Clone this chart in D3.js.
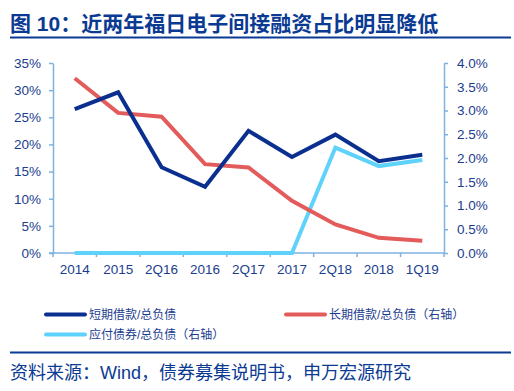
<!DOCTYPE html>
<html><head><meta charset="utf-8">
<script src="https://cdn.jsdelivr.net/npm/d3@7/dist/d3.min.js"></script>
<style>
html,body{margin:0;padding:0;background:#fff;}
svg{display:block;}
text{font-family:"Liberation Sans","Noto Sans CJK SC",sans-serif;}
</style></head>
<body>
<svg id="c" width="514" height="391"></svg>
<script>
const categories = ["2014","2015","2Q16","2016","2Q17","2017","2Q18","2018","1Q19"];
const shortTerm = [26.5,29.6,15.8,12.2,22.5,17.7,21.8,16.9,18.1];
const longTerm = [3.68,2.95,2.87,1.87,1.80,1.10,0.60,0.32,0.26];
const bonds = [0,0,0,0,0,0,2.22,1.83,1.96];
const leftTicks = [0,5,10,15,20,25,30,35];
const rightTicks = [0,0.5,1,1.5,2,2.5,3,3.5,4];
const seriesNames = ["短期借款/总负债","长期借款/总负债（右轴）","应付债券/总负债（右轴）"];
const titleText = "图 10：近两年福日电子间接融资占比明显降低";
const sourceText = "资料来源：Wind，债券募集说明书，申万宏源研究";

const navy = "#0a2f8f", red = "#e35b5b", cyan = "#5fd2fb", axisC = "#7eb1e2", textC = "#1b3d8f";
const svg = d3.select("#c");
const L = 53, R = 444, T = 63, B = 253;

// title
svg.append("text").attr("x",10).attr("y",31).attr("font-size",21).attr("font-weight","bold")
  .attr("fill","#0b3a93").attr("font-family","'Liberation Sans','Noto Sans CJK SC'").text(titleText);
svg.append("rect").attr("x",10).attr("y",36.5).attr("width",501).attr("height",2).attr("fill","#0b3a93");

const x = d3.scaleBand().domain(categories).range([L,R]).padding(0);
const yL = d3.scaleLinear().domain([0,35]).range([B,T]);
const yR = d3.scaleLinear().domain([0,4]).range([B,T]);
const cx = d => x(d)+x.bandwidth()/2;

// left axis
const gl = svg.append("g").attr("transform",`translate(${L},0)`)
  .call(d3.axisLeft(yL).tickValues(leftTicks).tickSize(4).tickSizeOuter(0).tickPadding(8).tickFormat(d=>d+"%"));
const gr = svg.append("g").attr("transform",`translate(${R},0)`)
  .call(d3.axisRight(yR).tickValues(rightTicks).tickSize(4).tickSizeOuter(0).tickPadding(9).tickFormat(d=>d.toFixed(1)+"%"));
[gl,gr].forEach(g=>{
  g.select(".domain").attr("stroke",axisC).attr("stroke-width",1.5);
  g.selectAll(".tick line").attr("stroke",axisC).attr("stroke-width",1.5);
  g.selectAll(".tick text").attr("fill",textC).attr("font-size",13.5).attr("font-family","'Liberation Sans'");
});

// bottom axis
const gb = svg.append("g").attr("transform",`translate(0,${B})`)
  .call(d3.axisBottom(x).tickSize(0).tickPadding(11));
gb.select(".domain").remove();
gb.selectAll(".tick text").attr("fill",textC).attr("font-size",13.5).attr("font-family","'Liberation Sans'");
svg.append("line").attr("x1",L-4).attr("x2",R).attr("y1",B).attr("y2",B).attr("stroke",axisC).attr("stroke-width",1.5);
const bounds = categories.map(c=>x(c)).concat([R]);
svg.append("g").selectAll("line").data(bounds).join("line")
  .attr("x1",d=>d).attr("x2",d=>d).attr("y1",B).attr("y2",B+4).attr("stroke",axisC).attr("stroke-width",1.5);

// lines
const mk = (ys) => d3.line().x((d,i)=>cx(categories[i])).y(d=>ys(d));
const draw = (data, ys, col) => svg.append("path").datum(data).attr("d",mk(ys))
  .attr("fill","none").attr("stroke",col).attr("stroke-width",4).attr("stroke-linejoin","miter").attr("stroke-linecap","butt");
draw(bonds, yR, cyan);
draw(longTerm, yR, red);
draw(shortTerm, yL, navy);

// legend
const leg = [
  {name:seriesNames[0], col:navy, x:46, y:314.5},
  {name:seriesNames[1], col:red, x:286, y:314.5},
  {name:seriesNames[2], col:cyan, x:46, y:334.5}
];
const lg = svg.append("g").selectAll("g").data(leg).join("g");
lg.append("line").attr("x1",d=>d.x).attr("x2",d=>d.x+39).attr("y1",d=>d.y).attr("y2",d=>d.y)
  .attr("stroke",d=>d.col).attr("stroke-width",4).attr("stroke-linecap","round");
lg.append("text").attr("x",d=>d.x+43).attr("y",d=>d.y+4.5).attr("font-size",12).attr("fill",textC)
  .attr("font-family","'Noto Sans CJK SC'").text(d=>d.name);

// source
svg.append("rect").attr("x",10).attr("y",351.5).attr("width",501).attr("height",2).attr("fill","#0b3a93");
svg.append("text").attr("x",10).attr("y",379).attr("font-size",18).attr("fill","#0b3a93")
  .attr("font-family","'Liberation Sans','Noto Sans CJK SC'").text(sourceText);
</script>
</body></html>
